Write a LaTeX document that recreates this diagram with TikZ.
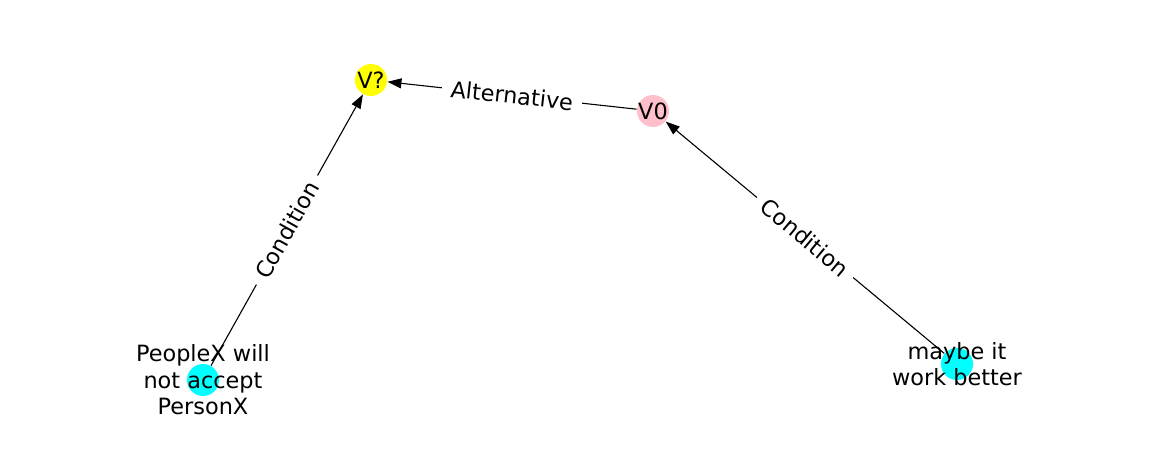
\documentclass[tikz,border=0pt]{standalone}
\usepackage{fontspec}
\setmainfont{DejaVu Sans}
\usetikzlibrary{arrows.meta}
\definecolor{nodeyellow}{HTML}{FFFF00}
\definecolor{nodepink}{HTML}{FFC0CB}
\definecolor{nodecyan}{HTML}{00FFFF}
\tikzset{
	every path/.style={line width=1.1pt},
	align=center,
	every node/.style={
		font=\fontsize{22.4}{26.5}\selectfont,
	},
	vertex/.style={
		circle,
		minimum size=32pt,
		inner sep=0pt,
	},
	rel/.style={
		draw,
		-{Triangle[length=14pt,width=10pt]}
	},
	rellabel/.style={
		fill=white,
		midway,
		sloped,
		inner xsep=9pt,
		inner ysep=2pt,
	},
}
\begin{document}
\begin{tikzpicture}[x=1pt,y=-1pt]
		\useasboundingbox (0,0) rectangle (1162,462);

		\node[vertex, fill=nodeyellow] 	(vq) at (371,80) {};
		\node[vertex, fill=nodepink] 		(vzero) at (653,111) {};
		\node[vertex, fill=nodecyan] 		(peoplex) at (203,380) {};
		\node[vertex, fill=nodecyan] 		(maybe) at (957,364) {};

%*********

		\draw[rel] 			(vzero) -- node[rellabel] {Alternative} (vq);
		\draw[rel] 			(peoplex) -- node[rellabel] {Condition} (vq);
		\draw[rel] 			(maybe) -- node[rellabel] {Condition} (vzero);

%*********

		\node 					(vq text) at (vq) {V?};
		\node 					(vzero text) at (vzero) {V0};
		\node 					(peoplex text) at (peoplex) {PeopleX will\\not accept\\PersonX};
		\node 					(maybe text) at (maybe) {maybe it\\work better};

	\end{tikzpicture}
\end{document}
